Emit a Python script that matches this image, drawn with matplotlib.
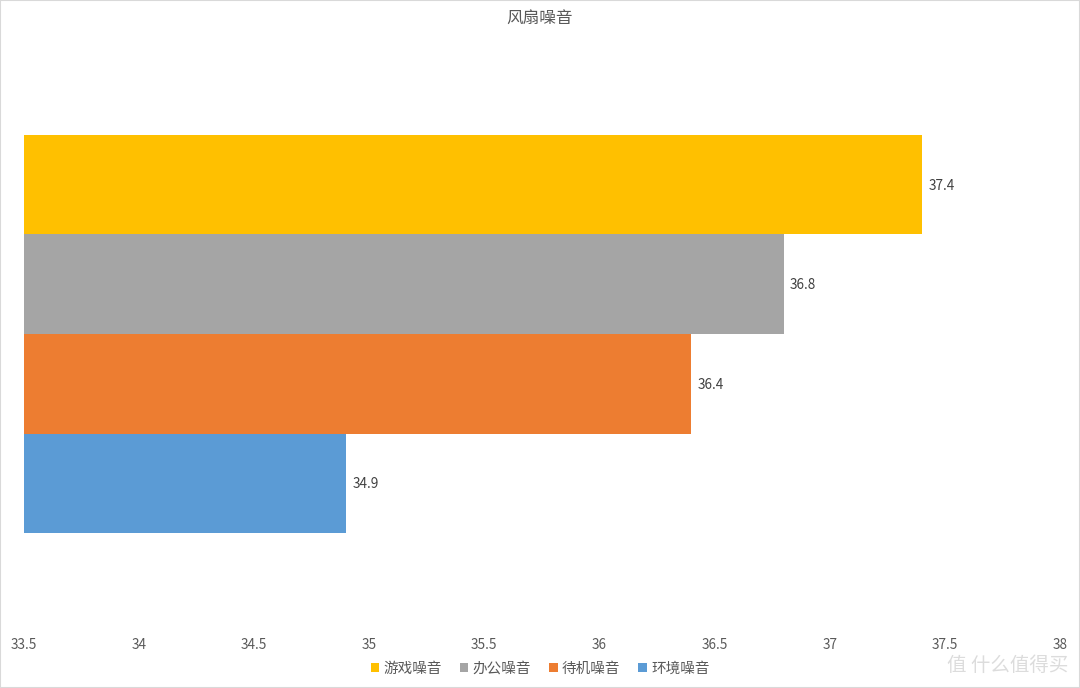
import matplotlib
matplotlib.use("Agg")
import matplotlib.pyplot as plt
from matplotlib.patches import Rectangle

plt.rcParams['font.family'] = ['Noto Sans CJK SC', 'DejaVu Sans']

# data
series = ['游戏噪音', '办公噪音', '待机噪音', '环境噪音']
values = [37.4, 36.8, 36.4, 34.9]
colors = ['#FFC000', '#A5A5A5', '#ED7D31', '#5B9BD5']
x_ticks = [33.5, 34, 34.5, 35, 35.5, 36, 36.5, 37, 37.5, 38]
x_min = 33.5

txt = '#595959'

fig = plt.figure(figsize=(10.8, 6.88), dpi=100)
fig.patches.append(Rectangle((0, 0), 1, 1, transform=fig.transFigure,
                             fill=False, edgecolor='#D9D9D9', linewidth=1.5))

ax = fig.add_axes([23.5/1080, 1 - 633/688, (1060-23.5)/1080, (633-35)/688])

pos = [3, 2, 1, 0]
for p, v, c, name in zip(pos, values, colors, series):
    ax.barh(p, v - x_min, left=x_min, height=1.0, color=c, label=name)
    ax.text(v + 0.028, p - 0.01, f'{v}', va='center', ha='left', fontsize=9.8, color='#404040')

ax.set_xlim(33.5, 38)
ax.set_ylim(-1.505, 4.505)
ax.set_xticks(x_ticks)
ax.set_xticklabels([f'{t:g}' for t in x_ticks])
ax.set_yticks([])
ax.tick_params(axis='x', length=0, pad=3.5, labelsize=9.8, labelcolor=txt)
for s in ax.spines.values():
    s.set_visible(False)

fig.text(0.5, 1 - 18/688, '风扇噪音', ha='center', va='center', fontsize=12, color=txt)

handles, labels = ax.get_legend_handles_labels()
leg = fig.legend(handles, labels, loc='center', bbox_to_anchor=(0.5, 1 - 669/688),
                 ncol=4, frameon=False, fontsize=10.5, labelcolor=txt,
                 handlelength=0.6, handleheight=0.6, handletextpad=0.3, columnspacing=1.2)

fig.text(1068/1080, 1 - 665/688, '值 什么值得买', ha='right', va='center',
         fontsize=14, color='#DCDCDC')

fig.savefig('out.png', dpi=100)
